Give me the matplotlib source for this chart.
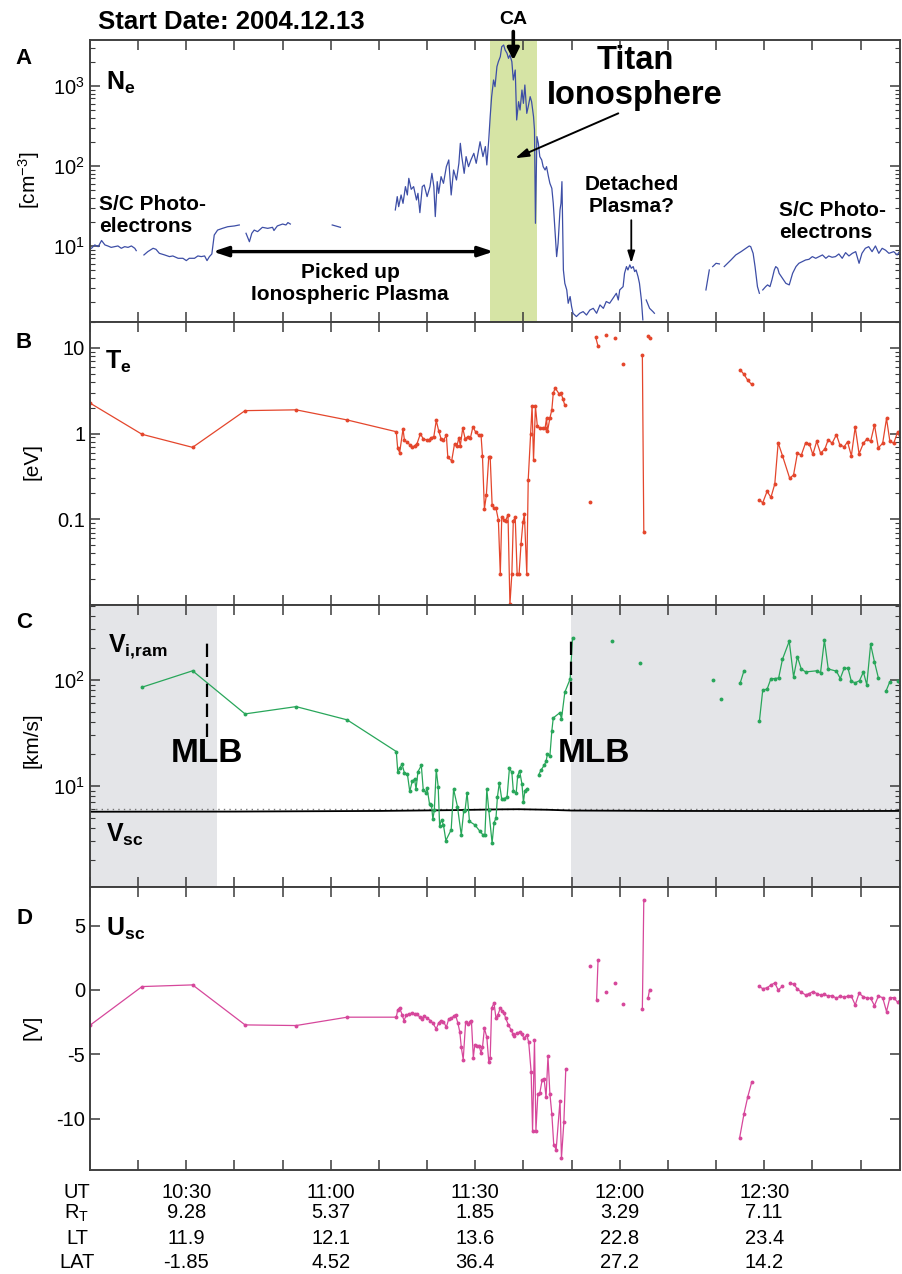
import numpy as np
import matplotlib
matplotlib.use("Agg")
import matplotlib.pyplot as plt
from matplotlib.ticker import MultipleLocator, FixedLocator, FixedFormatter, LogLocator, NullFormatter
from matplotlib.transforms import blended_transform_factory

nan = np.nan

#time axis = minutes after 10:00 UT (2004-12-13, Titan TA flyby)
T_MIN, T_MAX = 10, 178.2

#panel A: electron density [cm^-3]
ne_t = [10.3, 11.0, 11.7, 12.4, 13.1, 13.7, 14.4, 15.1, 15.8, 16.5, 17.2, 17.9, 18.6, 19.3, 19.6, nan,
        21.2, 22.0, 23.1, 23.7, 24.4, 25.5, 26.5, 27.2, 28.3, 29.3, 30.0, 30.6, 31.7, 32.4, 33.1, 33.8,
        34.3, 34.8, 35.3, 35.8, 36.5, 37.5, 38.6, 40.0, 41.0, nan,
        42.4, 43.1, 43.6, 44.1, 44.8, 45.8, 46.9, 47.9, 48.2, 48.9, 50.0, 50.7, 51.1, 51.6, nan,
        60.3, 61.0, 62.0, nan,
        73.4, 73.8, 74.1, 74.6, 75.0, 75.5, 75.9, 76.2, 76.7, 77.2, 77.8, 78.1, 78.5, 79.0, 79.4, 80.0,
        80.6, 81.0, 81.4, 81.7, 82.1, 82.4, 82.9, 83.4, 84.0, 84.5, 85.0, 85.5, 86.1, 86.6, 86.9, 87.2,
        87.7, 88.1, 88.6, 89.1, 89.7, 90.2, 90.7, 91.0, 91.6, 92.1, 92.4, 92.8, 93.1, 93.4, 93.8, 94.1,
        94.5, 94.8, 95.2, 95.5, 95.9, 96.2, 96.6, 96.9, 97.2, 97.6, 97.9, 98.3, 98.6, 99.0, 99.3, 99.7,
        100.0, 100.3, 100.7, 101.0, 101.4, 101.7, 102.1, 102.3, 102.5, 102.8, 103.1, 103.4, 103.8, 104.1,
        104.5, 104.8, 105.2, 105.5, 105.9, 106.2, 106.6, 106.9, 107.2, 107.6, 107.8, 108.0, 108.3, 108.6,
        109.0, 109.3, 109.7, 110.0, 110.3, 111.0, 111.7, 112.4, 113.1, 113.8, 114.5, 115.2, 115.9, 116.6,
        117.2, 117.9, 118.6, 119.3, 119.7, 120.0, 120.7, 121.0, 121.4, 121.7, 122.1, 122.4, 122.8, 123.1,
        123.4, 123.8, 124.1, 124.5, 124.8, nan,
        125.5, 126.2, 126.9, 127.2, nan,
        137.9, 138.6, nan, 139.3, 140.0, 140.7, nan,
        141.7, 142.4, 143.1, 144.1, 145.2, 146.2, 146.9, 147.2, 147.7, 148.1, 148.6, 149.0, nan,
        149.7, 150.3, 150.7, 151.2, 151.6, 152.1, 152.4, 152.8, 153.1, 153.8, 154.5, 155.2, 155.5, 155.9,
        156.6, 157.2, 157.9, 158.6, 159.3, 160.0, 160.7, 161.4, 162.1, 162.8, 163.4, 164.1, 164.8, 165.5,
        166.2, 166.9, 167.6, 168.3, 169.0, 169.7, 170.3, 171.0, 171.7, 172.4, 173.1, 173.8, 174.5, 175.2,
        175.9, 176.9, 177.6, 178.1]
ne_val = [9.35, 10.3, 9.8, 11.7, 10.3, 10.0, 9.6, 9.8, 10.0, 9.35, 9.8, 9.6, 10.0, 9.35, 8.74, nan,
          7.72, 8.49, 9.35, 9.08, 8.09, 7.72, 7.36, 7.5, 7.01, 7.01, 6.56, 7.01, 7.01, 7.5, 7.36, 7.5,
          6.56, 7.36, 7.94, 13.7, 15.8, 16.6, 17.4, 17.8, 18.3, nan,
          14.4, 11.3, 14.4, 15.8, 15.1, 17.1, 16.6, 17.1, 15.6, 17.8, 18.8, 18.3, 19.6, 18.8, nan,
          18.3, 17.8, 17.1, nan,
          28.2, 41.4, 31.0, 43.4, 34.1, 55.2, 43.4, 70.1, 51.1, 55.2, 37.6, 45.5, 26.1, 55.2, 57.9, 41.4,
          55.2, 80.9, 55.2, 23.3, 63.7, 45.5, 73.6, 60.7, 98.1, 119, 43.4, 89.1, 66.8, 108, 192, 131,
          80.9, 131, 98.1, 119, 144, 108, 158, 201, 131, 175, 103, 211, 414, 736, 1189, 981,
          1745, 2015, 2326, 3102, 3255, 2818, 2561, 2218, 2441, 2015, 1189, 1585, 376, 637, 501, 891,
          607, 1029, 455, 552, 736, 637, 414, 282, 19.2, 233, 192, 131, 119, 98.1,
          89.1, 98.1, 73.6, 60.7, 52.6, 34.1, 14.4, 7.36, 10.8, 28.2, 34.1, 63.7, 5.01, 3.41,
          2.82, 1.92, 2.33, 1.75, 1.44, 1.31, 1.44, 1.51, 1.37, 1.58, 1.66, 1.44, 1.83, 1.66,
          2.02, 1.92, 2.22, 2.56, 2.11, 2.82, 3.1, 4.55, 5.52, 5.01, 5.79, 5.26, 5.52, 4.78,
          5.01, 4.14, 3.41, 2.11, 1.19, nan,
          2.11, 1.66, 1.51, 1.44, nan,
          2.82, 5.01, nan, 5.52, 6.07, 5.96, nan,
          5.52, 6.07, 6.68, 7.72, 8.49, 9.35, 10.0, 9.8, 8.09, 5.52, 3.1, 2.56, nan,
          2.82, 3.1, 3.26, 3.1, 3.76, 5.01, 5.52, 5.26, 4.55, 3.94, 3.41, 3.26, 3.76, 4.55,
          5.52, 6.07, 6.37, 6.68, 6.81, 7.36, 7.01, 7.36, 7.72, 7.01, 7.5, 7.22, 7.36, 7.94,
          7.01, 8.25, 7.5, 8.09, 8.49, 6.07, 8.09, 9.35, 9.8, 8.49, 10.0, 8.09, 9.35, 8.85,
          8.09, 8.49, 7.72, 8.49]

#panel B: electron temperature [eV]
te_t = [10.1, 20.8, 31.3, 42.2, 52.8, 63.4, 73.6,
        73.9, 74.3, 75.0, 75.3, 75.9, 76.4, 76.9, 77.4, 77.9, 78.6,
        79.2, 79.9, 80.3, 80.8, 81.4, 81.9, 82.4, 82.9, 83.4, 84.0,
        84.3, 85.1, 85.7, 86.2, 86.6, 86.9, 87.4, 87.9, 88.4, 89.0,
        89.5, 90.1, 90.7, 91.2, 91.5, 91.9, 92.3, 92.8, 93.1, 93.5,
        93.9, 94.3, 94.8, 95.2, 95.5, 96.0, 96.3, 96.8, 97.2, 97.6,
        97.9, 98.3, 98.7, 99.1, 99.5, 99.9, 100.2, 100.7, 101.0, 101.5,
        101.8, 102.1, 102.5, 102.9, 103.4, 104.0, 104.5, 104.8, 105.0, 105.5,
        105.9, 106.2, 106.6, 107.4, 107.8, 108.2, 108.6, nan,
        113.9, nan, 115.0, 115.5, nan, 117.1, nan, 119.1, nan, 120.7, nan,
        124.7, 125.0, nan, 125.9, 126.2, nan,
        145.0, 145.8, 146.6, 147.4, nan,
        148.9, 149.7, 150.6, 151.4, 152.2, 152.9, 153.8, 155.3, 156.1, 156.9,
        157.7, 158.6, 159.4, 160.1, 160.9, 161.7, 162.6, 163.3, 164.1, 165.0,
        165.7, 166.6, 167.3, 168.1, 168.9, 169.7, 170.6, 171.3, 172.1, 172.9,
        173.7, 174.6, 175.4, 176.1, 176.9, 177.7, 178.6]
te_val = [2.25, 0.98, 0.69, 1.85, 1.89, 1.44, 1.05,
          0.67, 0.60, 1.13, 0.83, 0.79, 0.74, 0.69, 0.72, 0.76, 0.99,
          0.87, 0.84, 0.83, 0.89, 0.92, 1.42, 1.08, 0.87, 0.84, 0.95,
          0.53, 0.48, 0.76, 0.72, 0.89, 0.72, 1.16, 0.87, 0.91, 0.89,
          1.19, 1.04, 0.96, 0.96, 0.54, 0.132, 0.19, 0.53, 0.53, 0.148,
          0.135, 0.135, 0.098, 0.023, 0.105, 0.098, 0.096, 0.113, 0.0102, 0.023,
          0.096, 0.105, 0.023, 0.023, 0.051, 0.092, 0.115, 0.023, 0.29, 0.99,
          2.11, 0.49, 2.07, 1.21, 1.16, 1.15, 1.16, 1.51, 1.06, 1.52,
          1.89, 2.96, 3.39, 2.91, 2.96, 2.54, 2.13, nan,
          0.157, nan, 13.4, 10.4, nan, 14.0, nan, 13.1, nan, 6.5, nan,
          8.17, 0.072, nan, 13.6, 12.9, nan,
          5.56, 4.90, 4.17, 3.74, nan,
          0.168, 0.156, 0.212, 0.18, 0.258, 0.78, 0.55, 0.30, 0.33, 0.59,
          0.56, 0.78, 0.75, 0.57, 0.81, 0.59, 0.66, 0.85, 0.77, 0.97,
          0.74, 0.70, 0.80, 0.55, 1.19, 0.58, 0.77, 0.86, 0.81, 1.26,
          0.68, 0.77, 1.50, 0.81, 0.77, 1.04, 0.79]

#panel C: ion ram speed [km/s] and spacecraft speed
vi_t = [20.8, 31.3, 42.2, 52.8, 63.4, 73.6,
        73.9, 74.3, 74.8, 75.3, 75.9, 76.4, 76.9, 77.4, 77.7, 78.1,
        78.8, 79.2, 79.7, 80.0, 80.5, 80.9, 81.2, 81.5, 81.9, 82.3,
        82.6, 83.0, 83.4, 83.9, 85.0, 85.5, 86.3, 87.1, 87.6, 87.9,
        88.3, 88.8, 89.9, 91.0, 91.6, 92.0, 92.4, 92.8, 93.5, 93.9,
        94.3, 94.6, 95.0, 95.5, 96.0, 96.6, 97.1, 97.6, 97.9, 98.5,
        98.8, 99.2, 99.7, 100.0, 100.3, 100.8, nan,
        103.2, 103.7, 104.3, 104.7, 105.0, 105.5, 105.9, 106.2, 107.6, 107.9,
        108.6, 109.7, 110.2, nan,
        118.3, nan, 124.3, nan, 139.4, nan, 141.0, nan, 145.0, 145.8, nan,
        149.0, 149.7, 150.6, 151.4, 152.2, 153.0, 153.8, 155.2, 156.1, 156.9,
        157.7, 158.6, 160.9, 161.7, 162.5, 163.3, 165.0, 165.8, 166.6, 167.4,
        168.1, 168.9, 169.8, 170.6, 171.3, 172.1, 172.9, 173.7, nan,
        175.3, 176.1, nan, 177.7, 178.6]
vi_val = [85.4, 122, 47.8, 56, 42, 21.1,
          13.6, 14.7, 16.0, 13.2, 13.0, 8.85, 11.0, 11.6, 9.3, 13.6,
          15.6, 9.2, 8.65, 9.5, 6.76, 6.62, 4.85, 5.94, 14.2, 9.86,
          4.2, 4.78, 4.26, 3.05, 3.85, 9.3, 6.38, 3.43, 5.77, 5.94,
          8.65, 4.62, 4.29, 3.71, 3.45, 3.43, 9.3, 5.94, 2.88, 4.51,
          4.95, 7.82, 10.7, 7.48, 7.6, 7.8, 14.7, 13.4, 9.04, 8.53,
          12.4, 13.96, 10.4, 6.97, 9.04, 9.44, nan,
          12.8, 14.2, 15.6, 17.0, 20.1, 19.2, 33.0, 43.8, 49.2, 42.6,
          76.6, 102, 251, nan,
          233, nan, 146, nan, 99, nan, 65.8, nan, 93, 122, nan,
          40.7, 80.5, 81.7, 103, 103, 104.5, 157, 232, 107, 165,
          127, 119, 122, 117, 238, 127, 121, 103, 129, 129,
          97, 94, 98.6, 119, 90, 217, 148, 105, nan,
          78.7, 96.4, nan, 98.6, 85]
vsc_t = [10, 40, 70, 85, 95, 99, 105, 110, 130, 160, 178.2]
vsc_val = [5.7, 5.72, 5.8, 5.9, 6.0, 6.02, 5.95, 5.85, 5.8, 5.78, 5.8]
vsc_ref = 6.0

#panel D: spacecraft potential [V]
usc_t = [10.1, 20.8, 31.3, 42.2, 52.8, 63.4, 73.6,
         73.9, 74.3, 74.8, 75.2, 75.7, 76.3, 76.9, 77.4, 77.9, 78.5,
         78.9, 79.4, 80.0, 80.7, 81.2, 81.9, 82.4, 82.9, 83.4, 84.0,
         84.5, 85.0, 85.5, 85.9, 86.4, 86.8, 87.1, 87.5, 88.0, 88.5,
         89.0, 89.2, 89.6, 89.9, 90.3, 90.8, 91.2, 91.5, 91.9, 92.4,
         92.8, 93.1, 93.4, 93.9, 94.3, 94.7, 95.2, 95.6, 96.0, 96.3,
         96.9, 97.4, 97.8, 98.1, 98.6, 99.2, 99.7, 100.1, 100.7, 101.1,
         101.6, 101.9, 102.3, 102.6, 103.0, 103.4, 103.9, 104.3, 104.7, 105.1,
         105.5, 105.9, 106.3, 106.8, 107.6, 107.9, 108.4, 108.8, nan,
         113.9, nan, 115.2, 115.5, nan, 117.1, nan, 119.1, nan, 120.7, nan,
         124.7, 125.0, nan, 125.9, 126.2, nan,
         144.9, 145.8, 146.6, 147.4, nan,
         148.9, 149.7, 150.6, 151.4, 152.2, 152.9, 153.8, nan,
         155.3, 156.1, 156.9, 157.7, 158.6, 159.4, 160.1, 160.9, 161.7, 162.5,
         163.3, 164.1, 165.0, 165.7, 166.6, 167.3, 168.1, 168.9, 169.7, 170.6,
         171.3, 172.1, 172.9, 173.7, 174.6, 175.4, 176.1, 176.9, 177.7, 178.6]
usc_val = [-2.72, 0.26, 0.39, -2.72, -2.77, -2.12, -2.12,
           -1.55, -1.40, -1.92, -2.38, -1.94, -1.87, -1.79, -1.87, -1.87, -2.12,
           -2.25, -1.99, -2.20, -2.38, -2.59, -3.03, -2.56, -2.38, -2.46, -2.90,
           -2.25, -2.20, -2.05, -1.94, -2.59, -3.29, -4.46, -5.41, -2.51, -2.67,
           -2.46, -2.38, -5.26, -4.27, -4.38, -4.33, -4.90, -4.46, -2.98, -3.68,
           -5.57, -5.31, -1.42, -1.01, -2.20, -1.94, -1.42, -1.61, -1.79, -2.20,
           -2.72, -3.08, -3.42, -3.60, -3.34, -3.29, -3.45, -3.76, -3.50, -4.07,
           -6.35, -10.96, -3.89, -10.93, -8.08, -8.03, -6.97, -6.92, -8.34, -5.16,
           -8.08, -9.64, -12.05, -12.41, -8.60, -13.08, -10.28, -6.14, nan,
           1.84, nan, -0.75, 2.33, nan, -0.13, nan, 0.52, nan, -1.06, nan,
           -1.48, 7.02, nan, -0.6, 0.03, nan,
           -11.5, -9.64, -8.29, -7.18, nan,
           0.28, 0.10, 0.16, 0.39, 0.54, 0.0, 0.28, nan,
           0.54, 0.44, 0.08, -0.18, -0.39, -0.28, -0.13, -0.28, -0.41, -0.34,
           -0.49, -0.44, -0.65, -0.49, -0.57, -0.49, -0.49, -1.17, -0.26, -0.54,
           -0.62, -0.65, -1.22, -0.49, -0.6, -1.68, -0.6, -0.6, -0.96, -0.6]

#closest approach interval and magnetic pile-up boundary crossings
ca_band = (93.0, 102.8)
ca_time = 97.9
mlb_in, mlb_out = 34.3, 109.9
shade_in_end = 36.3

#ephemeris table under the plot
ut_min = [30, 60, 90, 120, 150]
ut_labels = ["10:30", "11:00", "11:30", "12:00", "12:30"]
rt_vals = ["9.28", "5.37", "1.85", "3.29", "7.11"]
lt_vals = ["11.9", "12.1", "13.6", "22.8", "23.4"]
lat_vals = ["-1.85", "4.52", "36.4", "27.2", "14.2"]

assert len(ne_t) == len(ne_val) and len(te_t) == len(te_val)
assert len(vi_t) == len(vi_val) and len(usc_t) == len(usc_val)

plt.rcParams["font.family"] = ["Liberation Sans", "DejaVu Sans"]
plt.rcParams["mathtext.fontset"] = "custom"
plt.rcParams["mathtext.rm"] = "Liberation Sans"
plt.rcParams["mathtext.it"] = "Liberation Sans:italic"
plt.rcParams["mathtext.bf"] = "Liberation Sans:bold"
plt.rcParams["axes.unicode_minus"] = False

W, H = 902.0, 1274.0
fig = plt.figure(figsize=(W / 100, H / 100), dpi=100)

def px(x, y):
    #pixel position -> figure fraction
    return x / W, 1 - y / H

X0, X1 = 90, 900
panels = [(40, 322), (322, 605), (605, 887), (887, 1170)]
axes = []
for top, bot in panels:
    ax = fig.add_axes([X0 / W, 1 - bot / H, (X1 - X0) / W, (bot - top) / H])
    ax.set_xlim(T_MIN, T_MAX)
    ax.xaxis.set_major_locator(MultipleLocator(10))
    ax.tick_params(axis="both", which="both", direction="in", top=True, right=True,
                   labelbottom=False, color="#3a3a3a", labelsize=14.5)
    ax.tick_params(which="major", length=7, width=1.1)
    ax.tick_params(which="minor", length=3.5, width=0.8)
    for s in ax.spines.values():
        s.set_color("#404040")
        s.set_linewidth(1.4)
    axes.append(ax)
axA, axB, axC, axD = axes

ne_color = "#3d4ea6"
te_color = "#e4462c"
vi_color = "#28a65a"
usc_color = "#d6479b"

#A: Ne
axA.set_yscale("log")
axA.set_ylim(1.12, 3760)
axA.yaxis.set_minor_formatter(NullFormatter())
axA.axvspan(*ca_band, color="#d6e4a5", lw=0, zorder=0)
axA.plot(ne_t, ne_val, color=ne_color, lw=0.9)

#B: Te
axB.set_yscale("log")
axB.set_ylim(0.01, 20)
axB.yaxis.set_major_locator(FixedLocator([0.1, 1, 10]))
axB.yaxis.set_major_formatter(FixedFormatter(["0.1", "1", "10"]))
axB.yaxis.set_minor_locator(LogLocator(subs=np.arange(2, 10)))
axB.yaxis.set_minor_formatter(NullFormatter())
axB.plot(te_t, te_val, "-o", color=te_color, lw=0.9, ms=2.8, mew=0)

#C: Vi,ram
axC.set_yscale("log")
axC.set_ylim(1.11, 510)
axC.yaxis.set_minor_formatter(NullFormatter())
axC.axvspan(T_MIN, shade_in_end, color="#e4e5e8", lw=0, zorder=0)
axC.axvspan(mlb_out, T_MAX, color="#e4e5e8", lw=0, zorder=0)
axC.axhline(vsc_ref, color="#777777", lw=1.0, ls=(0, (1, 3)))
axC.plot(vsc_t, vsc_val, color="black", lw=1.3)
axC.plot(vi_t, vi_val, "-o", color=vi_color, lw=0.9, ms=2.8, mew=0)
axC.vlines([mlb_in], 29, 229, colors="black", lw=1.6, linestyles=(0, (6, 3)))
axC.vlines([mlb_out], 30, 260, colors="black", lw=1.6, linestyles=(0, (6, 3)))

#D: Usc
axD.set_ylim(-14, 8)
axD.set_yticks([-10, -5, 0, 5])
axD.plot(usc_t, usc_val, "-o", color=usc_color, lw=0.9, ms=2.8, mew=0)

#annotations in panel A
bold = dict(fontweight="bold", color="black")
fig.text(*px(98, 22), "Start Date: 2004.12.13", fontsize=18.5, va="center", ha="left", **bold)
fig.text(*px(513, 20), "CA", fontsize=14, va="center", ha="center", **bold)
axA.annotate("", xy=(ca_time, 2100), xytext=(ca_time, 4800), annotation_clip=False,
             arrowprops=dict(arrowstyle="-|>,head_length=0.7,head_width=0.35", lw=2.6,
                             color="black", shrinkA=0, shrinkB=0))
axA.annotate("", xy=(93.8, 8.5), xytext=(35.5, 8.5),
             arrowprops=dict(arrowstyle="<|-|>,head_length=0.9,head_width=0.3", lw=2.4,
                             color="black", shrinkA=0, shrinkB=0))
axA.annotate("", xy=(98.3, 125), xytext=(119.7, 455),
             arrowprops=dict(arrowstyle="-|>,head_length=0.8,head_width=0.25", lw=1.4,
                             color="black", shrinkA=0, shrinkB=0))
axA.annotate("", xy=(122.4, 6.1), xytext=(122.4, 21),
             arrowprops=dict(arrowstyle="-|>,head_length=0.7,head_width=0.22", lw=1.3,
                             color="black", shrinkA=0, shrinkB=0))
fig.text(*px(99, 215), "S/C Photo-\nelectrons", fontsize=15, va="center", ha="left", **bold)
fig.text(*px(779, 222), "S/C Photo-\nelectrons", fontsize=15, va="center", ha="left", **bold)
fig.text(*px(350, 284), "Picked up\nIonospheric Plasma", fontsize=15, va="center",
         ha="center", multialignment="center", **bold)
fig.text(*px(635, 78), "Titan\nIonosphere", fontsize=23.5, va="center", ha="center",
         multialignment="center", linespacing=1.15, **bold)
fig.text(*px(632, 195), "Detached\nPlasma?", fontsize=15, va="center", ha="center",
         multialignment="center", **bold)

#MLB labels in panel C
fig.text(*px(207, 753), "MLB", fontsize=24, va="center", ha="center", **bold)
fig.text(*px(594, 753), "MLB", fontsize=24, va="center", ha="center", **bold)

#panel letters, quantity names and units
for letter, y in zip("ABCD", [59, 342, 623, 918]):
    fig.text(*px(24, y), letter, fontsize=16, va="center", ha="center", **bold)
names = [r"$\mathbf{N_e}$", r"$\mathbf{T_e}$", r"$\mathbf{V_{i{,}ram}}$", r"$\mathbf{V_{sc}}$",
         r"$\mathbf{U_{sc}}$"]
for name, (x, y) in zip(names, [(106, 83), (105, 362), (108, 647), (106, 835), (106, 929)]):
    fig.text(*px(x, y), name, fontsize=18, va="center", ha="left")
units = [r"[cm$^{\mathregular{-3}}$]", "[eV]", "[km/s]", "[V]"]
for unit, (x, y) in zip(units, [(29, 180), (32, 462), (32, 740), (32, 1027)]):
    fig.text(*px(x, y), unit, fontsize=15, va="center", ha="center", rotation=90)

#table of UT / distance / local time / latitude
trans = blended_transform_factory(axD.transData, fig.transFigure)
rows = [("UT", ut_labels, 1192), (r"R$_\mathregular{T}$", rt_vals, 1213),
        ("LT", lt_vals, 1239), ("LAT", lat_vals, 1263)]
for label, vals, y in rows:
    fig.text(*px(77, y), label, fontsize=14.5, va="center", ha="center")
    for t, v in zip(ut_min, vals):
        fig.text(t, 1 - y / H, v, transform=trans, fontsize=14.5, va="center", ha="center")

fig.savefig("out.png", dpi=100)
